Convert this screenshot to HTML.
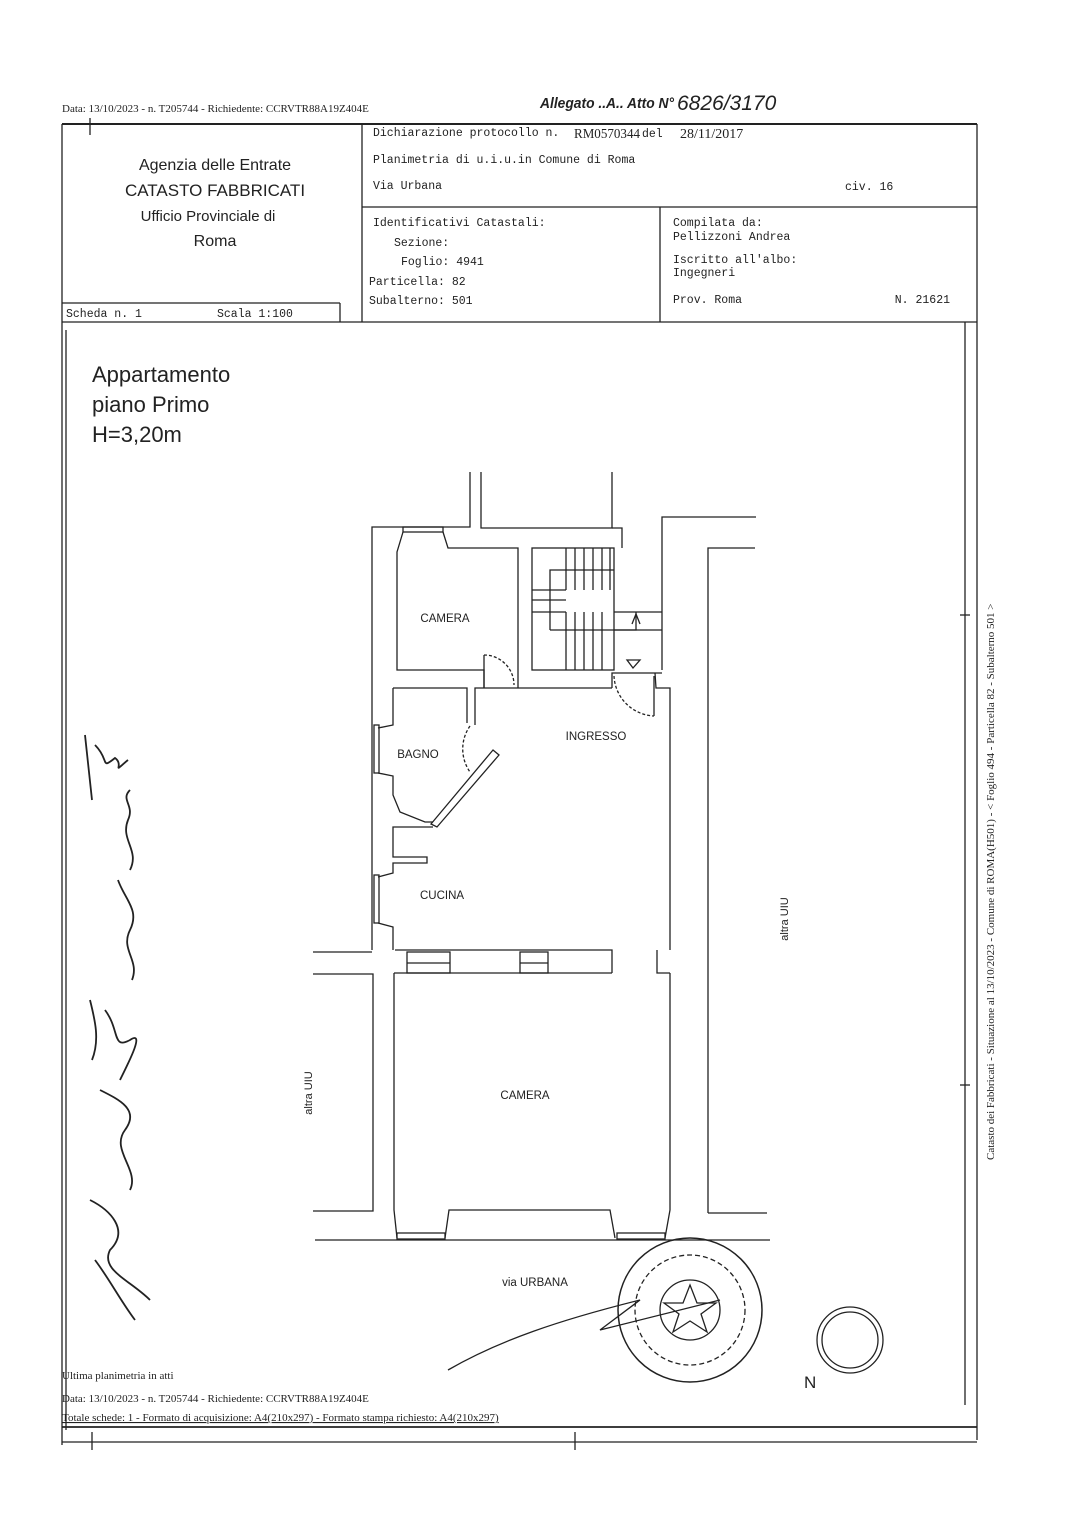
<!DOCTYPE html>
<html><head><meta charset="utf-8"><style>
html,body{margin:0;padding:0;background:#fff}
svg{display:block}
.m{font-family:"Liberation Mono",monospace;font-size:11.5px;fill:#222}
.s{font-family:"Liberation Sans",sans-serif;fill:#222}
.t{font-family:"Liberation Serif",serif;fill:#222}
</style></head><body>
<svg width="1085" height="1535" viewBox="0 0 1085 1535" xmlns="http://www.w3.org/2000/svg">
<g stroke="#222" fill="none" stroke-width="1.3">
<line x1="62" y1="124" x2="977" y2="124" stroke-width="2"/>
<line x1="62" y1="124" x2="62" y2="1445"/>
<line x1="977" y1="124" x2="977" y2="1440"/>
<line x1="965" y1="322" x2="965" y2="1405"/>
<line x1="362" y1="124" x2="362" y2="322"/>
<line x1="362" y1="207" x2="977" y2="207"/>
<line x1="660" y1="207" x2="660" y2="322"/>
<line x1="62" y1="303" x2="340" y2="303"/>
<line x1="340" y1="303" x2="340" y2="322"/>
<line x1="62" y1="322" x2="977" y2="322"/>
<line x1="66" y1="330" x2="66" y2="1430"/>
<line x1="62" y1="1427" x2="977" y2="1427" stroke-width="1.8"/>
<line x1="62" y1="1442" x2="977" y2="1442"/>
<line x1="92" y1="1432" x2="92" y2="1450"/><line x1="575" y1="1432" x2="575" y2="1450"/>
<line x1="90" y1="118" x2="90" y2="135"/>
<line x1="960" y1="615" x2="970" y2="615"/><line x1="960" y1="1085" x2="970" y2="1085"/>

<polyline points="372,950 372,527 470,527 470,472"/>
<polyline points="481,472 481,528 612,528 612,472"/>
<polyline points="612,528 622,528 622,548"/>
<polyline points="403,532 397,552 397,670 484,670 484,688"/>
<polyline points="443,532 448,548 518,548 518,688"/>
<rect x="403" y="527" width="40" height="5"/>
<path d="M484 655 A30 30 0 0 1 514 685" stroke-dasharray="3,2"/>
<line x1="484" y1="655" x2="484" y2="688"/>
<rect x="532" y="548" width="82" height="122"/>
<polyline points="550,630 550,570 614,570"/>
<polyline points="550,630 636,630 636,612"/>
<line x1="532" y1="590" x2="566" y2="590"/><line x1="532" y1="600" x2="566" y2="600"/><line x1="532" y1="612" x2="566" y2="612"/>
<line x1="566" y1="548" x2="566" y2="590"/><line x1="575" y1="548" x2="575" y2="590"/><line x1="584" y1="548" x2="584" y2="590"/><line x1="593" y1="548" x2="593" y2="590"/><line x1="602" y1="548" x2="602" y2="590"/><line x1="610" y1="548" x2="610" y2="590"/>
<line x1="566" y1="630" x2="566" y2="670"/><line x1="575" y1="612" x2="575" y2="670"/><line x1="584" y1="612" x2="584" y2="670"/><line x1="593" y1="612" x2="593" y2="670"/><line x1="602" y1="612" x2="602" y2="670"/><line x1="566" y1="612" x2="566" y2="630"/>
<line x1="614" y1="612" x2="662" y2="612"/><line x1="614" y1="630" x2="662" y2="630"/>
<polyline points="632,624 636,614 640,624"/>
<polygon points="627,660 640,660 633,668"/>
<polyline points="662,670 662,517 756,517"/>
<polyline points="612,688 475,688 475,725"/>
<polyline points="612,688 612,673 662,673"/>
<polyline points="655,673 656,688 670,688 670,950"/>
<path d="M614 676 A42 42 0 0 0 654 716" stroke-dasharray="3,2"/>
<line x1="654" y1="676" x2="654" y2="716"/>
<polyline points="708,1213 708,548 755,548"/>
<line x1="708" y1="1213" x2="767" y2="1213"/>
<polyline points="393,688 467,688 467,723"/>
<polyline points="393,688 393,725 378,728"/>
<rect x="374" y="725" width="5" height="48"/>
<polyline points="378,773 393,776 393,795 400,812 425,822 433,822"/>
<path d="M470 726 A40 40 0 0 0 470 772" stroke-dasharray="3,2"/>
<polygon points="493,750 499,755 437,827 431,824"/>
<polyline points="433,827 393,827 393,857 427,857 427,863 393,863 393,873 378,877"/>
<rect x="374" y="875" width="5" height="48"/>
<polyline points="378,923 393,927 393,950"/>
<polyline points="395,950 612,950 612,973"/>
<polyline points="657,950 657,973 670,973"/>
<line x1="394" y1="973" x2="612" y2="973"/>
<rect x="407" y="952" width="43" height="21"/><line x1="407" y1="963" x2="450" y2="963"/>
<rect x="520" y="952" width="28" height="21"/><line x1="520" y1="963" x2="548" y2="963"/>
<line x1="372" y1="952" x2="313" y2="952"/>
<polyline points="313,974 373,974 373,1211 313,1211"/>
<polyline points="394,973 394,1210 397,1238"/>
<polyline points="670,973 670,1210 665,1238"/>
<rect x="397" y="1233" width="48" height="6"/>
<rect x="617" y="1233" width="48" height="6"/>
<polyline points="445,1238 449,1210 610,1210 615,1238"/>
<line x1="315" y1="1240" x2="770" y2="1240"/>
<circle cx="690" cy="1310" r="72" stroke-width="1.5"/>
<circle cx="690" cy="1310" r="55" stroke-dasharray="5,3"/>
<circle cx="690" cy="1310" r="30"/>
<polygon points="690,1285 697,1303 716,1303 701,1314 707,1332 690,1321 673,1332 679,1314 664,1303 683,1303"/>
<circle cx="850" cy="1340" r="33"/><circle cx="850" cy="1340" r="28"/>
<path d="M448 1370 C500 1340 560 1320 640 1300 L600 1330 C640 1320 680 1310 720 1300"/>
<g stroke-width="1.8">
<path d="M85 735 L92 800 M95 745 C110 760 100 770 115 758 C125 765 110 775 128 760 M130 790 C120 800 135 805 128 820 C120 840 140 850 130 870 M118 880 C125 900 140 910 130 930 C120 950 140 960 132 980"/>
<path d="M90 1000 C95 1020 100 1040 92 1060 M105 1010 C120 1030 112 1050 130 1040 C145 1030 130 1060 120 1080 M100 1090 C120 1100 140 1110 125 1130 C110 1150 140 1170 130 1190 M90 1200 C110 1210 130 1230 110 1250 C100 1270 130 1280 150 1300 M95 1260 C110 1280 120 1300 135 1320"/>
</g>
</g>
<text x="62" y="112" class="t" font-size="11">Data: 13/10/2023 - n. T205744 - Richiedente: CCRVTR88A19Z404E</text>
<text x="540" y="108" class="s" font-size="15" font-style="italic" font-weight="bold" textLength="134" lengthAdjust="spacingAndGlyphs">Allegato ..A.. Atto N°</text>
<text x="677" y="110" class="s" font-size="21" font-style="italic" fill="#333">6826/3170</text>
<text x="215" y="170" class="s" font-size="16" text-anchor="middle">Agenzia delle Entrate</text>
<text x="215" y="196" class="s" font-size="17" text-anchor="middle">CATASTO FABBRICATI</text>
<text x="208" y="221" class="s" font-size="15" text-anchor="middle">Ufficio Provinciale di</text>
<text x="215" y="246" class="s" font-size="16" text-anchor="middle">Roma</text>
<text x="373" y="136" class="m">Dichiarazione protocollo n.</text><text x="574" y="138" class="t" font-size="14" textLength="66" lengthAdjust="spacingAndGlyphs">RM0570344</text><text x="642" y="137" class="m" font-size="10">del</text><text x="680" y="138" class="t" font-size="14">28/11/2017</text>
<text x="373" y="163" class="m">Planimetria di u.i.u.in Comune di Roma</text>
<text x="373" y="189" class="m">Via Urbana</text>
<text x="845" y="190" class="m">civ. 16</text>
<text x="373" y="226" class="m">Identificativi Catastali:</text>
<text x="394" y="246" class="m">Sezione:</text>
<text x="401" y="265" class="m">Foglio: 4941</text>
<text x="369" y="285" class="m">Particella: 82</text>
<text x="369" y="304" class="m">Subalterno: 501</text>
<text x="673" y="226" class="m">Compilata da:</text>
<text x="673" y="240" class="m">Pellizzoni Andrea</text>
<text x="673" y="263" class="m">Iscritto all'albo:</text>
<text x="673" y="276" class="m">Ingegneri</text>
<text x="673" y="303" class="m">Prov. Roma</text>
<text x="950" y="303" class="m" text-anchor="end">N. 21621</text>
<text x="66" y="317" class="m">Scheda n. 1</text>
<text x="217" y="317" class="m">Scala 1:100</text>
<text x="92" y="382" class="s" font-size="22">Appartamento</text>
<text x="92" y="412" class="s" font-size="22">piano Primo</text>
<text x="92" y="442" class="s" font-size="22">H=3,20m</text>
<text x="445" y="622" class="s" font-size="11.5" text-anchor="middle">CAMERA</text>
<text x="418" y="758" class="s" font-size="11.5" text-anchor="middle">BAGNO</text>
<text x="596" y="740" class="s" font-size="11.5" text-anchor="middle">INGRESSO</text>
<text x="442" y="899" class="s" font-size="11.5" text-anchor="middle">CUCINA</text>
<text x="525" y="1099" class="s" font-size="11.5" text-anchor="middle">CAMERA</text>
<text x="535" y="1286" class="s" font-size="11.5" text-anchor="middle">via URBANA</text>
<text transform="translate(312,1093) rotate(-90)" class="s" font-size="11" text-anchor="middle">altra UIU</text>
<text transform="translate(788,919) rotate(-90)" class="s" font-size="11" text-anchor="middle">altra UIU</text>
<text x="804" y="1388" class="s" font-size="17">N</text>
<text transform="translate(994,1160) rotate(-90)" class="t" font-size="11">Catasto dei Fabbricati - Situazione al 13/10/2023 - Comune di ROMA(H501) - &lt; Foglio 494 - Particella 82 - Subalterno 501 &gt;</text>
<text x="62" y="1379" class="t" font-size="11">Ultima planimetria in atti</text>
<text x="62" y="1402" class="t" font-size="11">Data: 13/10/2023 - n. T205744 - Richiedente: CCRVTR88A19Z404E</text>
<text x="62" y="1421" class="t" font-size="11" text-decoration="underline">Totale schede: 1 - Formato di acquisizione: A4(210x297) - Formato stampa richiesto: A4(210x297)</text>
</svg>
</body></html>
